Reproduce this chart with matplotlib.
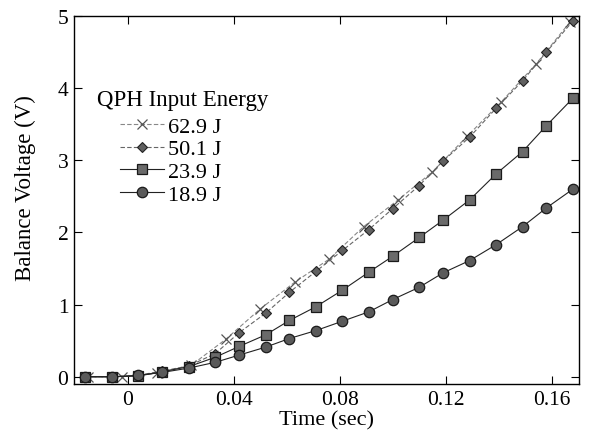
import numpy as np
import matplotlib
matplotlib.use("Agg")
import matplotlib.pyplot as plt

plt.rcParams['font.family'] = ['Liberation Serif', 'DejaVu Serif']

# time samples (sec) for the diamond / square / circle runs
t = [-0.016, -0.006, 0.004, 0.013, 0.023, 0.033, 0.042, 0.052, 0.061, 0.071,
     0.081, 0.091, 0.100, 0.110, 0.119, 0.129, 0.139, 0.149, 0.158, 0.168]
# 62.9 J run was sampled on a coarser grid
t_629 = [-0.015, -0.002, 0.011, 0.024, 0.037, 0.050, 0.063, 0.076, 0.089,
         0.102, 0.115, 0.128, 0.141, 0.154, 0.167]

v_629 = [0.0, 0.0, 0.05, 0.16, 0.52, 0.94, 1.31, 1.63, 2.08, 2.45, 2.84,
         3.33, 3.81, 4.33, 4.92]
v_501 = [0.0, 0.0, 0.02, 0.08, 0.15, 0.32, 0.61, 0.88, 1.17, 1.46, 1.75,
         2.04, 2.33, 2.65, 2.99, 3.32, 3.72, 4.10, 4.50, 4.93]
v_239 = [0.0, 0.0, 0.01, 0.07, 0.14, 0.27, 0.42, 0.58, 0.78, 0.97, 1.20,
         1.45, 1.67, 1.93, 2.17, 2.45, 2.81, 3.12, 3.48, 3.86]
v_189 = [0.0, 0.0, 0.02, 0.06, 0.12, 0.20, 0.30, 0.41, 0.53, 0.64, 0.77,
         0.90, 1.07, 1.24, 1.44, 1.61, 1.83, 2.08, 2.34, 2.60]

labels = ['62.9 J', '50.1 J', '23.9 J', '18.9 J']

fig = plt.figure(figsize=(5.89, 4.35), dpi=100)
ax = fig.add_axes([0.1256, 0.115, 0.8574, 0.846])

l1, = ax.plot(t_629, v_629, color='#888888', lw=0.8, ls=(0, (4, 2)),
              marker='x', ms=7, mew=0.9, mec='#555555', label=labels[0])
l2, = ax.plot(t, v_501, color='#666666', lw=0.8, ls=(0, (4, 2)),
              marker='D', ms=5.5, mfc='#606060', mec='#222222', mew=0.8,
              label=labels[1])
l3, = ax.plot(t, v_239, color='#222222', lw=0.8,
              marker='s', ms=7.5, mfc='#6a6a6a', mec='#1a1a1a', mew=0.9,
              label=labels[2])
l4, = ax.plot(t, v_189, color='#222222', lw=0.8,
              marker='o', ms=7.5, mfc='#5a5a5a', mec='#1a1a1a', mew=0.9,
              label=labels[3])

ax.set_xlim(-0.0203, 0.1703)
ax.set_ylim(-0.1, 5.0)
ax.set_xticks([0, 0.04, 0.08, 0.12, 0.16])
ax.set_xticklabels(['0', '0.04', '0.08', '0.12', '0.16'])
ax.set_yticks([0, 1, 2, 3, 4, 5])
ax.tick_params(direction='in', top=True, right=True, length=6, width=0.8,
               labelsize=15.5, pad=4)
for s in ax.spines.values():
    s.set_linewidth(1.0)

ax.set_xlabel('Time (sec)', fontsize=16, labelpad=1)
ax.set_ylabel('Balance Voltage (V)', fontsize=16.5)
ax.yaxis.set_label_coords(-0.075, 0.535)

ax.text(0.046, 0.774, 'QPH Input Energy', transform=ax.transAxes,
        fontsize=16.5, va='center', ha='left')
ax.legend(handles=[l1, l2, l3, l4], loc='upper left',
          bbox_to_anchor=(0.091, 0.728), frameon=False, fontsize=16,
          handlelength=2.0, handletextpad=0.15, labelspacing=0.1,
          borderaxespad=0, borderpad=0)

fig.savefig('out.png', dpi=100)
